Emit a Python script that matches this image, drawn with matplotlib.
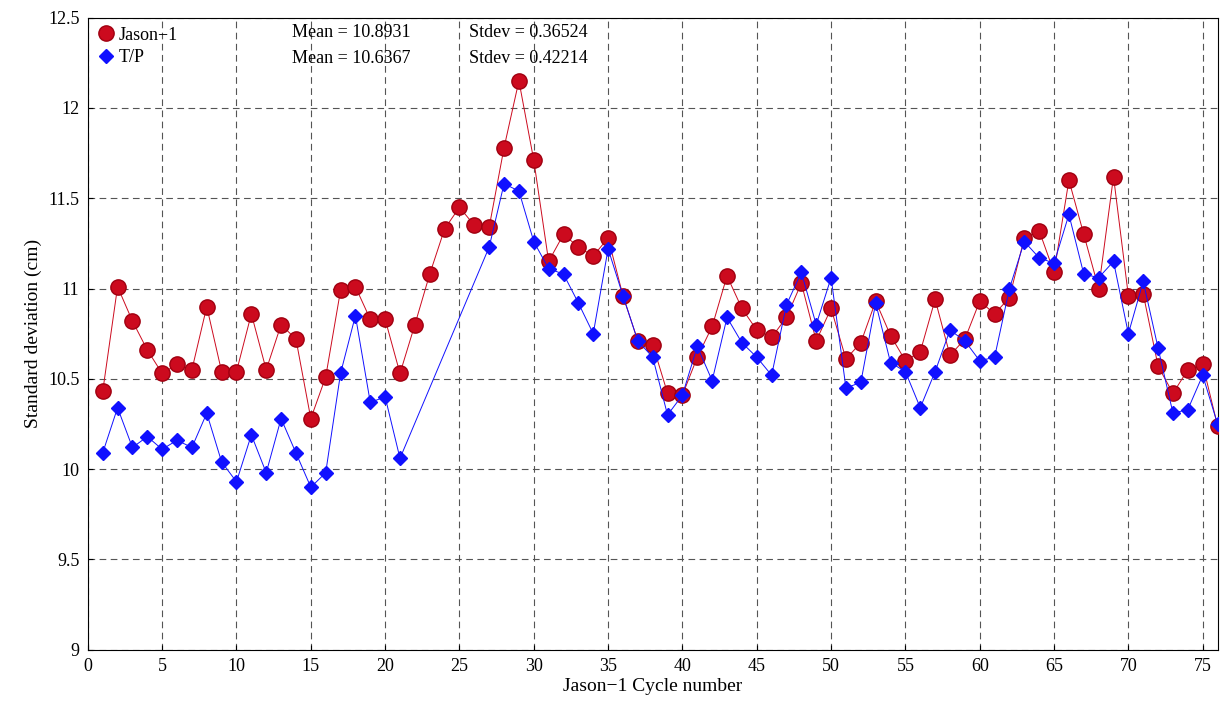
import numpy as np
import matplotlib.pyplot as plt
from matplotlib.lines import Line2D

plt.rcParams['font.family'] = ['Liberation Serif', 'DejaVu Serif']

jason_cycles = list(range(1, 77))
jason_std = [10.43, 11.01, 10.82, 10.66, 10.53, 10.58, 10.55, 10.90, 10.54, 10.54,
             10.86, 10.55, 10.80, 10.72, 10.28, 10.51, 10.99, 11.01, 10.83, 10.83,
             10.53, 10.80, 11.08, 11.33, 11.45, 11.35, 11.34, 11.78, 12.15, 11.71,
             11.15, 11.30, 11.23, 11.18, 11.28, 10.96, 10.71, 10.69, 10.42, 10.41,
             10.62, 10.79, 11.07, 10.89, 10.77, 10.73, 10.84, 11.03, 10.71, 10.89,
             10.61, 10.70, 10.93, 10.74, 10.60, 10.65, 10.94, 10.63, 10.72, 10.93,
             10.86, 10.95, 11.28, 11.32, 11.09, 11.60, 11.30, 11.00, 11.62, 10.96,
             10.97, 10.57, 10.42, 10.55, 10.58, 10.24]

tp_cycles = list(range(1, 22)) + list(range(27, 77))
tp_std = [10.09, 10.34, 10.12, 10.18, 10.11, 10.16, 10.12, 10.31, 10.04, 9.93,
          10.19, 9.98, 10.28, 10.09, 9.90, 9.98, 10.53, 10.85, 10.37, 10.40,
          10.06,
          11.23, 11.58, 11.54, 11.26, 11.11, 11.08, 10.92, 10.75, 11.22, 10.96,
          10.71, 10.62, 10.30, 10.41, 10.68, 10.49, 10.84, 10.70, 10.62, 10.52,
          10.91, 11.09, 10.80, 11.06, 10.45, 10.48, 10.92, 10.59, 10.54, 10.34,
          10.54, 10.77, 10.71, 10.60, 10.62, 11.00, 11.26, 11.17, 11.14, 11.41,
          11.08, 11.06, 11.15, 10.75, 11.04, 10.67, 10.31, 10.33, 10.52, 10.25]

red = '#cc0a1e'
blue = '#1010ff'

fig, ax = plt.subplots(figsize=(12.2, 7.04), dpi=100)
fig.subplots_adjust(left=0.072, right=0.998, top=0.975, bottom=0.077)

ax.plot(jason_cycles, jason_std, color=red, lw=0.7, marker='o', ms=11,
        markerfacecolor=red, markeredgecolor='#a00010', zorder=3)
ax.plot(tp_cycles, tp_std, color=blue, lw=0.7, marker='D', ms=7,
        markerfacecolor=blue, markeredgecolor=blue, zorder=4)

ax.set_xlim(0, 76)
ax.set_ylim(9, 12.5)
ax.set_xticks(range(0, 76, 5))
ax.set_yticks(np.arange(9, 12.51, 0.5))
ax.set_yticklabels(['9', '9.5', '10', '10.5', '11', '11.5', '12', '12.5'])
ax.tick_params(labelsize=13, direction='in', pad=6)
ax.grid(True, color='#555555', ls=(0, (6, 4)), lw=0.8)
ax.set_xlabel('Jason\u22121 Cycle number', fontsize=14, labelpad=2)
ax.set_ylabel('Standard deviation (cm)', fontsize=14)

handles = [Line2D([], [], ls='none', marker='o', ms=11, color=red, markeredgecolor='#a00010'),
           Line2D([], [], ls='none', marker='D', ms=7, color=blue)]
ax.legend(handles, ['Jason\u22121', 'T/P'], loc='upper left', fontsize=13, frameon=False,
          handletextpad=0.2, borderaxespad=0.1, handlelength=1.0, labelspacing=0.3)
ax.text(0.181, 0.99, 'Mean = 10.8931', transform=ax.transAxes, fontsize=13, va='top')
ax.text(0.337, 0.99, 'Stdev = 0.36524', transform=ax.transAxes, fontsize=13, va='top')
ax.text(0.181, 0.948, 'Mean = 10.6367', transform=ax.transAxes, fontsize=13, va='top')
ax.text(0.337, 0.948, 'Stdev = 0.42214', transform=ax.transAxes, fontsize=13, va='top')

plt.savefig('out.png')
